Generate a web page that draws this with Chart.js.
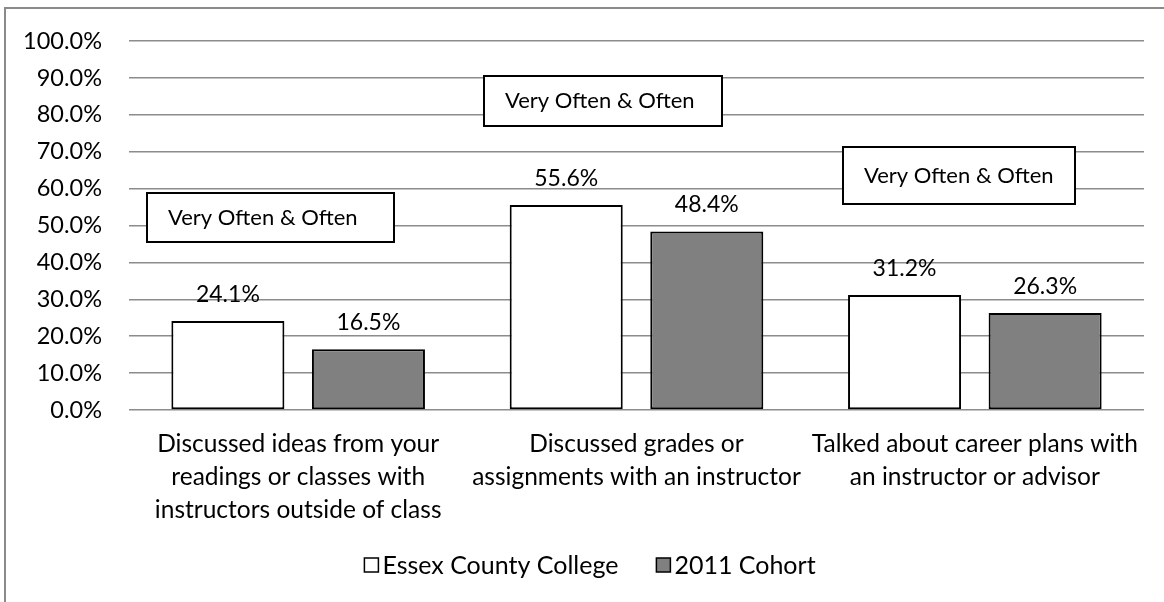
<!DOCTYPE html>
<html lang="en">

<head>
    <meta charset="UTF-8">
    <title>Very Often &amp; Often</title>
    <script src="https://cdn.jsdelivr.net/npm/chart.js"></script>
    <style>
        body {
            margin: 0;
            background: #ffffff;
            overflow: hidden;
        }

        /* outer frame of the chart object */
        .frame {
            position: absolute;
            left: 4px;
            top: 7px;
            width: 1300px;
            height: 800px;
            border: 2px solid #8a8a8a;
        }

        .chart-container {
            position: absolute;
            left: 0;
            top: 0;
            width: 1164px;
            height: 602px;
        }
    </style>
</head>

<body>
    <div class="frame"></div>
    <div class="chart-container">
        <canvas id="barChart"></canvas>
    </div>

    <script>
        const categories = [
            ['Discussed ideas from your', 'readings or classes with', 'instructors outside of class'],
            ['Discussed grades or', 'assignments with an instructor'],
            ['Talked about career plans with', 'an instructor or advisor']
        ];
        const seriesNames = ['Essex County College', '2011 Cohort'];
        const essexValues = [24.1, 55.6, 31.2];
        const cohortValues = [16.5, 48.4, 26.3];
        const yTicks = [0, 10, 20, 30, 40, 50, 60, 70, 80, 90, 100];

        const FONT = 'Lato, "Open Sans", sans-serif';
        const colors = ['#ffffff', '#808080'];

        // text boxes: anchored in category units (left edge) and value units (top edge)
        const noteText = 'Very Often & Often';
        const notes = [
            { x: -0.447, y: 58.7, w: 247, h: 49 },
            { x: 0.550, y: 90.6, w: 238, h: 50 },
            { x: 1.609, y: 71.3, w: 232, h: 57 }
        ];

        // value labels above each bar
        const barLabels = {
            id: 'barLabels',
            afterDatasetsDraw(chart) {
                const ctx = chart.ctx;
                ctx.save();
                ctx.font = '23px ' + FONT;
                ctx.fillStyle = '#000';
                ctx.textAlign = 'center';
                ctx.textBaseline = 'alphabetic';
                chart.data.datasets.forEach((ds, i) => {
                    chart.getDatasetMeta(i).data.forEach((bar, j) => {
                        ctx.fillText(ds.data[j].toFixed(1) + '%', bar.x, bar.y - 19);
                    });
                });
                ctx.restore();
            }
        };

        // "Very Often & Often" boxes
        const noteBoxes = {
            id: 'noteBoxes',
            afterDraw(chart) {
                const ctx = chart.ctx;
                const xs = chart.scales.x;
                const ys = chart.scales.y;
                const c0 = xs.getPixelForValue(0);
                const step = xs.getPixelForValue(1) - c0;
                ctx.save();
                ctx.font = '22px ' + FONT;
                notes.forEach(n => {
                    const left = Math.round(c0 + n.x * step);
                    const top = Math.round(ys.getPixelForValue(n.y));
                    ctx.fillStyle = '#fff';
                    ctx.fillRect(left, top, n.w, n.h);
                    ctx.lineWidth = 2;
                    ctx.strokeStyle = '#000';
                    ctx.strokeRect(left, top, n.w, n.h);
                    ctx.fillStyle = '#000';
                    ctx.textAlign = 'left';
                    ctx.textBaseline = 'middle';
                    ctx.fillText(noteText, left + 21, top + n.h / 2);
                });
                ctx.restore();
            }
        };

        // legend with the small gap between swatch and text
        const tightLegend = {
            id: 'tightLegend',
            afterDraw(chart) {
                const ctx = chart.ctx;
                const box = 14, gap = 4, itemGap = 38;
                ctx.save();
                ctx.font = '25px ' + FONT;
                const widths = seriesNames.map(s => ctx.measureText(s).width);
                const total = widths.reduce((a, w) => a + box + gap + w, 0) + itemGap * (seriesNames.length - 1);
                let x = chart.width / 2 + 8 - total / 2;
                const y = 565;
                seriesNames.forEach((name, i) => {
                    ctx.fillStyle = colors[i];
                    ctx.fillRect(x, y - box / 2, box, box);
                    ctx.lineWidth = 1.5;
                    ctx.strokeStyle = '#000';
                    ctx.strokeRect(x, y - box / 2, box, box);
                    ctx.fillStyle = '#000';
                    ctx.textAlign = 'left';
                    ctx.textBaseline = 'middle';
                    ctx.fillText(name, x + box + gap, y + 1);
                    x += box + gap + widths[i] + itemGap;
                });
                ctx.restore();
            }
        };

        const ctx = document.getElementById('barChart').getContext('2d');

        new Chart(ctx, {
            type: 'bar',
            data: {
                labels: categories,
                datasets: [
                    {
                        label: seriesNames[0],
                        data: essexValues,
                        backgroundColor: colors[0],
                        borderColor: '#000000',
                        borderWidth: 2,
                        borderSkipped: false,
                        categoryPercentage: 0.831,
                        barPercentage: 0.804
                    },
                    {
                        label: seriesNames[1],
                        data: cohortValues,
                        backgroundColor: colors[1],
                        borderColor: '#000000',
                        borderWidth: 2,
                        borderSkipped: false,
                        categoryPercentage: 0.831,
                        barPercentage: 0.804
                    }
                ]
            },
            options: {
                responsive: true,
                maintainAspectRatio: false,
                animation: false,
                layout: {
                    padding: { left: 10, right: 20, top: 37, bottom: 58 }
                },
                plugins: {
                    legend: { display: false },
                    tooltip: { enabled: false },
                    title: { display: false }
                },
                scales: {
                    y: {
                        min: 0,
                        max: 100,
                        afterBuildTicks(scale) {
                            scale.ticks = yTicks.map(v => ({ value: v }));
                        },
                        afterFit(scale) {
                            scale.width = 119;
                        },
                        border: { display: false },
                        grid: {
                            color: '#8c8c8c',
                            lineWidth: 1.5,
                            drawTicks: false
                        },
                        ticks: {
                            color: '#000',
                            padding: 27,
                            font: { family: FONT, size: 23.5 },
                            callback: v => v.toFixed(1) + '%'
                        }
                    },
                    x: {
                        afterFit(scale) {
                            scale.height = 134;
                        },
                        border: { display: false },
                        grid: { display: false, drawTicks: false },
                        ticks: {
                            color: '#000',
                            padding: 18,
                            maxRotation: 0,
                            autoSkip: false,
                            font: { family: FONT, size: 24.5, lineHeight: 33 / 24.5 }
                        }
                    }
                }
            },
            plugins: [barLabels, noteBoxes, tightLegend]
        });
    </script>

</body>

</html>
